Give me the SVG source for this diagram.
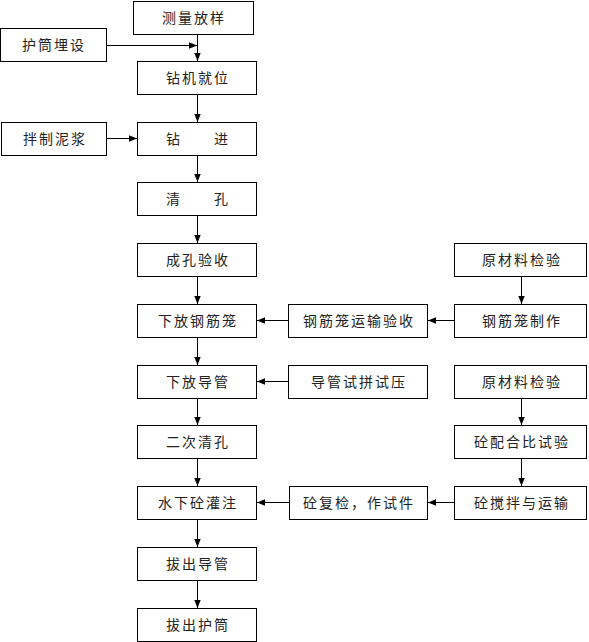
<svg xmlns="http://www.w3.org/2000/svg" width="589" height="642" viewBox="0 0 589 642">
<style>
.box{fill:#fff;stroke:#000;stroke-width:1}
.t{font-family:"Noto Sans CJK SC","Noto Sans",sans-serif;font-size:14px;letter-spacing:2px;fill:#222;text-anchor:middle}
.c{stroke:#000;stroke-width:1;fill:none}
</style>
<defs>
<marker id="ah" viewBox="0 0 10 10" refX="10" refY="5" markerWidth="8" markerHeight="8" markerUnits="userSpaceOnUse" orient="auto">
<path d="M0,1 L10,5 L0,9 Z" fill="#000"/>
</marker>
</defs>
<rect width="589" height="642" fill="#fff"/>
<g id="connectors">
<path class="c" d="M197.5,34.5 V61" marker-end="url(#ah)"/>
<path class="c" d="M107,45.5 H197" marker-end="url(#ah)"/>
<path class="c" d="M197.5,94.5 V122" marker-end="url(#ah)"/>
<path class="c" d="M107,138.5 H137" marker-end="url(#ah)"/>
<path class="c" d="M197.5,155.5 V182" marker-end="url(#ah)"/>
<path class="c" d="M197.5,215.5 V243" marker-end="url(#ah)"/>
<path class="c" d="M197.5,276.5 V304" marker-end="url(#ah)"/>
<path class="c" d="M197.5,337.5 V365" marker-end="url(#ah)"/>
<path class="c" d="M197.5,398.5 V425" marker-end="url(#ah)"/>
<path class="c" d="M197.5,458.5 V486" marker-end="url(#ah)"/>
<path class="c" d="M197.5,519.5 V547" marker-end="url(#ah)"/>
<path class="c" d="M197.5,580.5 V608" marker-end="url(#ah)"/>
<path class="c" d="M521.5,276.5 V304" marker-end="url(#ah)"/>
<path class="c" d="M454,320.5 H428" marker-end="url(#ah)"/>
<path class="c" d="M288,320.5 H257" marker-end="url(#ah)"/>
<path class="c" d="M288,381.5 H257" marker-end="url(#ah)"/>
<path class="c" d="M521.5,398.5 V425" marker-end="url(#ah)"/>
<path class="c" d="M521.5,458.5 V486" marker-end="url(#ah)"/>
<path class="c" d="M454,502.5 H428" marker-end="url(#ah)"/>
<path class="c" d="M289,502.5 H257" marker-end="url(#ah)"/>
</g>
<g id="n1"><rect class="box" x="133.5" y="1.5" width="120" height="33"/><text class="t" x="194" y="23">测量放样</text></g>
<g id="n2"><rect class="box" x="0.5" y="28.5" width="106" height="33"/><text class="t" x="54" y="50">护筒埋设</text></g>
<g id="n3"><rect class="box" x="137.5" y="61.5" width="119" height="33"/><text class="t" x="198" y="83">钻机就位</text></g>
<g id="n4"><rect class="box" x="1.5" y="122.5" width="105" height="33"/><text class="t" x="55" y="144">拌制泥浆</text></g>
<g id="n5"><rect class="box" x="137.5" y="122.5" width="119" height="33"/><text class="t" x="198" y="144">钻　　进</text></g>
<g id="n6"><rect class="box" x="137.5" y="182.5" width="119" height="33"/><text class="t" x="198" y="204">清　　孔</text></g>
<g id="n7"><rect class="box" x="137.5" y="243.5" width="119" height="33"/><text class="t" x="198" y="265">成孔验收</text></g>
<g id="n8"><rect class="box" x="454.5" y="243.5" width="132" height="33"/><text class="t" x="522" y="265">原材料检验</text></g>
<g id="n9"><rect class="box" x="137.5" y="304.5" width="119" height="33"/><text class="t" x="198" y="326">下放钢筋笼</text></g>
<g id="n10"><rect class="box" x="288.5" y="304.5" width="139" height="33"/><text class="t" x="359" y="326">钢筋笼运输验收</text></g>
<g id="n11"><rect class="box" x="454.5" y="304.5" width="132" height="33"/><text class="t" x="522" y="326">钢筋笼制作</text></g>
<g id="n12"><rect class="box" x="137.5" y="365.5" width="119" height="33"/><text class="t" x="198" y="387">下放导管</text></g>
<g id="n13"><rect class="box" x="288.5" y="365.5" width="139" height="33"/><text class="t" x="359" y="387">导管试拼试压</text></g>
<g id="n14"><rect class="box" x="454.5" y="365.5" width="132" height="33"/><text class="t" x="522" y="387">原材料检验</text></g>
<g id="n15"><rect class="box" x="137.5" y="425.5" width="119" height="33"/><text class="t" x="198" y="447">二次清孔</text></g>
<g id="n16"><rect class="box" x="454.5" y="425.5" width="132" height="33"/><text class="t" x="522" y="447">砼配合比试验</text></g>
<g id="n17"><rect class="box" x="137.5" y="486.5" width="119" height="33"/><text class="t" x="198" y="508">水下砼灌注</text></g>
<g id="n18"><rect class="box" x="289.5" y="486.5" width="138" height="33"/><text class="t" x="359" y="508">砼复检，作试件</text></g>
<g id="n19"><rect class="box" x="454.5" y="486.5" width="132" height="33"/><text class="t" x="522" y="508">砼搅拌与运输</text></g>
<g id="n20"><rect class="box" x="137.5" y="547.5" width="119" height="33"/><text class="t" x="198" y="569">拔出导管</text></g>
<g id="n21"><rect class="box" x="137.5" y="608.5" width="119" height="33"/><text class="t" x="198" y="630">拔出护筒</text></g>
</svg>
